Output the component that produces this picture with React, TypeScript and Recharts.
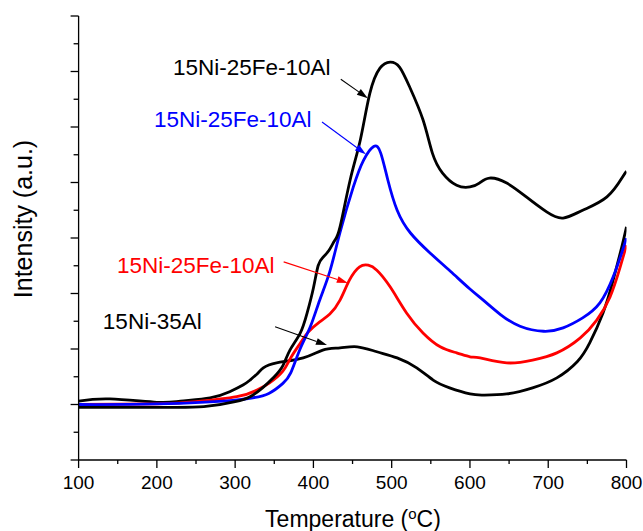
import React from 'react'
import { LineChart, Line, XAxis, YAxis, ReferenceLine, ReferenceDot } from 'recharts'

type Pt = { t: number; v: number }

// temperature (°C) vs intensity (a.u.)
const ni25Fe10AlBlack: Pt[] = [
  { t: 100, v: 0.95 }, { t: 200, v: 0.95 }, { t: 260, v: 0.96 }, { t: 300, v: 1.05 },
  { t: 319, v: 1.14 }, { t: 335, v: 1.3 }, { t: 350, v: 1.5 }, { t: 361, v: 1.7 },
  { t: 370, v: 1.98 }, { t: 383, v: 2.28 }, { t: 392, v: 2.65 }, { t: 400, v: 3.1 },
  { t: 406, v: 3.5 }, { t: 412, v: 3.65 }, { t: 420, v: 3.78 }, { t: 427, v: 3.95 },
  { t: 434, v: 4.2 }, { t: 447, v: 5.05 }, { t: 460, v: 5.77 }, { t: 472, v: 6.6 },
  { t: 485, v: 7.06 }, { t: 498, v: 7.17 }, { t: 510, v: 7.08 }, { t: 523, v: 6.72 },
  { t: 540, v: 6.13 }, { t: 552, v: 5.53 }, { t: 565, v: 5.17 }, { t: 583, v: 4.95 },
  { t: 600, v: 4.92 }, { t: 612, v: 4.99 }, { t: 625, v: 5.08 }, { t: 647, v: 4.99 },
  { t: 672, v: 4.74 }, { t: 698, v: 4.47 }, { t: 719, v: 4.36 }, { t: 744, v: 4.5 },
  { t: 775, v: 4.74 }, { t: 795, v: 5.1 }, { t: 800, v: 5.2 },
]

const ni25Fe10AlBlue: Pt[] = [
  { t: 100, v: 1.0 }, { t: 200, v: 1.01 }, { t: 300, v: 1.08 }, { t: 343, v: 1.2 },
  { t: 361, v: 1.38 }, { t: 371, v: 1.57 }, { t: 383, v: 2.0 }, { t: 396, v: 2.4 },
  { t: 408, v: 2.88 }, { t: 421, v: 3.4 }, { t: 434, v: 4.1 }, { t: 451, v: 4.92 },
  { t: 464, v: 5.4 }, { t: 477, v: 5.65 }, { t: 486, v: 5.53 }, { t: 495, v: 5.05 },
  { t: 507, v: 4.5 }, { t: 524, v: 4.09 }, { t: 549, v: 3.73 }, { t: 575, v: 3.4 },
  { t: 600, v: 3.08 }, { t: 617, v: 2.88 }, { t: 639, v: 2.62 }, { t: 664, v: 2.41 },
  { t: 694, v: 2.32 }, { t: 719, v: 2.38 }, { t: 744, v: 2.56 }, { t: 766, v: 2.83 },
  { t: 783, v: 3.3 }, { t: 795, v: 3.78 }, { t: 800, v: 4.0 },
]

const ni25Fe10AlRed: Pt[] = [
  { t: 100, v: 1.0 }, { t: 200, v: 1.01 }, { t: 250, v: 1.05 }, { t: 302, v: 1.14 },
  { t: 328, v: 1.26 }, { t: 344, v: 1.39 }, { t: 361, v: 1.6 }, { t: 371, v: 1.84 },
  { t: 383, v: 2.1 }, { t: 393, v: 2.3 }, { t: 408, v: 2.49 }, { t: 421, v: 2.63 },
  { t: 434, v: 2.88 }, { t: 446, v: 3.24 }, { t: 459, v: 3.48 }, { t: 470, v: 3.51 },
  { t: 481, v: 3.42 }, { t: 498, v: 3.12 }, { t: 519, v: 2.65 }, { t: 540, v: 2.29 },
  { t: 562, v: 2.04 }, { t: 583, v: 1.93 }, { t: 600, v: 1.86 }, { t: 613, v: 1.84 },
  { t: 647, v: 1.75 }, { t: 680, v: 1.8 }, { t: 711, v: 1.93 }, { t: 741, v: 2.2 },
  { t: 762, v: 2.52 }, { t: 779, v: 2.94 }, { t: 792, v: 3.48 }, { t: 800, v: 3.87 },
]

const ni35Al: Pt[] = [
  { t: 100, v: 1.06 }, { t: 140, v: 1.1 }, { t: 200, v: 1.04 }, { t: 230, v: 1.06 },
  { t: 268, v: 1.12 }, { t: 293, v: 1.23 }, { t: 310, v: 1.35 }, { t: 319, v: 1.44 },
  { t: 328, v: 1.55 }, { t: 336, v: 1.66 }, { t: 353, v: 1.75 }, { t: 387, v: 1.84 },
  { t: 412, v: 1.98 }, { t: 434, v: 2.02 }, { t: 456, v: 2.04 }, { t: 481, v: 1.95 },
  { t: 507, v: 1.84 }, { t: 532, v: 1.66 }, { t: 553, v: 1.44 }, { t: 574, v: 1.3 },
  { t: 600, v: 1.19 }, { t: 617, v: 1.17 }, { t: 647, v: 1.19 }, { t: 680, v: 1.3 },
  { t: 711, v: 1.48 }, { t: 737, v: 1.77 }, { t: 753, v: 2.11 }, { t: 770, v: 2.65 },
  { t: 782, v: 3.19 }, { t: 794, v: 3.84 }, { t: 800, v: 4.2 },
]

const xTicks = [100, 150, 200, 250, 300, 350, 400, 450, 500, 550, 600, 650, 700, 750, 800]
const yTicks = [0, 0.5, 1, 1.5, 2, 2.5, 3, 3.5, 4, 4.5, 5, 5.5, 6, 6.5, 7, 7.5, 8]

// annotation labels and arrows (data coords)
const labels = [
  { text: '15Ni-25Fe-10Al', color: '#000', t: 220.6, v: 6.94, from: [435, 6.86], to: [469.5, 6.52] },
  { text: '15Ni-25Fe-10Al', color: '#0000ff', t: 196.3, v: 6.0, from: [411, 6.09], to: [467, 5.51] },
  { text: '15Ni-25Fe-10Al', color: '#ff0000', t: 149, v: 3.37, from: [362, 3.57], to: [444, 3.19] },
  { text: '15Ni-35Al', color: '#000', t: 131, v: 2.36, from: [351, 2.4], to: [417.3, 2.07] },
]

const FONT = '"Liberation Sans", Arial, sans-serif'

function XTick({ x, y, payload }: any) {
  const major = payload.value % 100 === 0
  return (
    <g>
      <line x1={x} x2={x} y1={y} y2={y + (major ? 8 : 4)} stroke="#000" strokeWidth={1.3} />
      {major && (
        <text x={x} y={y + 29} textAnchor="middle" fontSize={19} fontFamily={FONT} fill="#000">
          {payload.value}
        </text>
      )}
    </g>
  )
}

function YTick({ x, y, payload }: any) {
  const major = payload.value % 1 === 0
  return <line x1={x} x2={x - (major ? 8 : 5)} y1={y} y2={y} stroke="#000" strokeWidth={1.3} />
}

function Arrow({ x1, y1, x2, y2, stroke }: any) {
  const a = Math.atan2(y2 - y1, x2 - x1)
  const L = 11, W = 3.5
  const bx = x2 - L * Math.cos(a), by = y2 - L * Math.sin(a)
  const px = -Math.sin(a) * W, py = Math.cos(a) * W
  return (
    <g>
      <line x1={x1} y1={y1} x2={bx} y2={by} stroke={stroke} strokeWidth={1.1} />
      <polygon points={`${x2},${y2} ${bx + px},${by + py} ${bx - px},${by - py}`} fill={stroke} />
    </g>
  )
}

export default function App() {
  return (
    <div style={{ position: 'absolute', left: 0, top: 0, width: 643, height: 531, background: '#fff' }}>
      <LineChart width={643} height={531} margin={{ top: 16, right: 16.5, bottom: 0, left: 0 }}>
        <XAxis
          type="number" dataKey="t" domain={[100, 800]} ticks={xTicks} interval={0}
          height={71} tickSize={0} tickMargin={0} tickLine={false}
          axisLine={{ stroke: '#000', strokeWidth: 1.3 }} tick={<XTick />} allowDataOverflow
        />
        <YAxis
          type="number" domain={[0, 8]} ticks={yTicks} interval={0}
          width={78.6} tickSize={0} tickMargin={0} tickLine={false}
          axisLine={{ stroke: '#000', strokeWidth: 1.3 }} tick={<YTick />} allowDataOverflow
        />
        <Line data={ni35Al} dataKey="v" type="natural" stroke="#000" strokeWidth={2.8} dot={false} activeDot={false} isAnimationActive={false} />
        <Line data={ni25Fe10AlRed} dataKey="v" type="natural" stroke="#ff0000" strokeWidth={2.8} dot={false} activeDot={false} isAnimationActive={false} />
        <Line data={ni25Fe10AlBlue} dataKey="v" type="natural" stroke="#0000ff" strokeWidth={2.8} dot={false} activeDot={false} isAnimationActive={false} />
        <Line data={ni25Fe10AlBlack} dataKey="v" type="natural" stroke="#000" strokeWidth={2.8} dot={false} activeDot={false} isAnimationActive={false} />
        {labels.map((l, i) => (
          <ReferenceLine
            key={`a${i}`}
            segment={[{ x: l.from[0], y: l.from[1] }, { x: l.to[0], y: l.to[1] }]}
            ifOverflow="visible"
            shape={(p: any) => <Arrow x1={p.x1} y1={p.y1} x2={p.x2} y2={p.y2} stroke={l.color} />}
          />
        ))}
        {labels.map((l, i) => (
          <ReferenceDot
            key={`t${i}`} x={l.t} y={l.v} r={0} ifOverflow="visible"
            shape={(p: any) => (
              <text x={p.cx} y={p.cy} fontSize={22.5} fontFamily={FONT} fill={l.color}>{l.text}</text>
            )}
          />
        ))}
      </LineChart>
      <svg width={643} height={531} style={{ position: 'absolute', left: 0, top: 0, pointerEvents: 'none' }}>
        <text x={353} y={527} textAnchor="middle" fontSize={23} fontFamily={FONT} fill="#000">
          Temperature (<tspan dy={-8} fontSize={15}>o</tspan><tspan dy={8}>C)</tspan>
        </text>
        <text x={0} y={0} transform="translate(32 219) rotate(-90)" textAnchor="middle" fontSize={25} fontFamily={FONT} fill="#000">
          Intensity (a.u.)
        </text>
      </svg>
    </div>
  )
}
